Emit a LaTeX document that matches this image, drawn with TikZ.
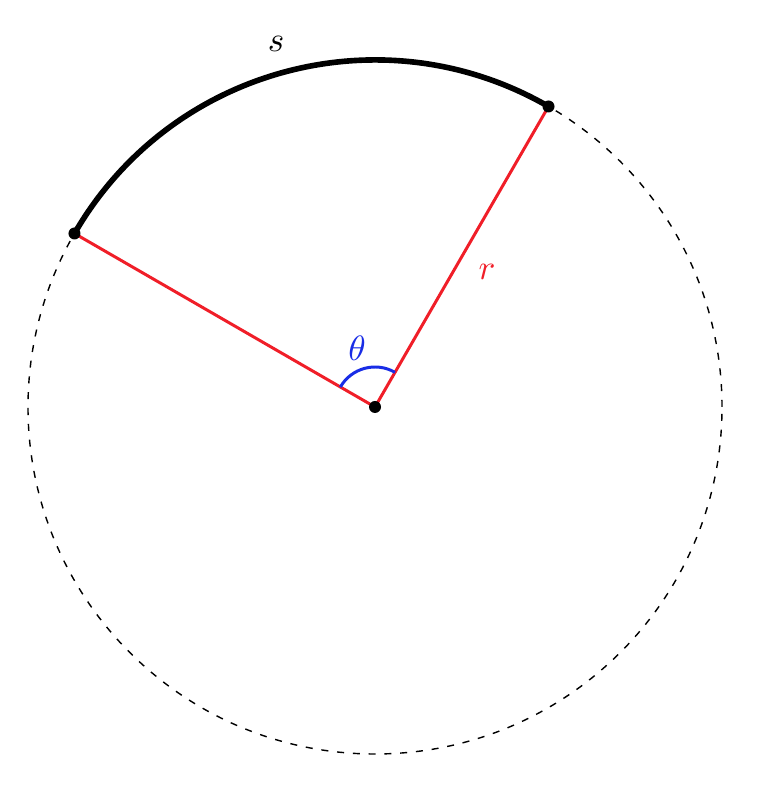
\documentclass[tikz,border=0pt]{standalone}
\definecolor{myred}{RGB}{240,30,40}
\definecolor{myblue}{RGB}{25,45,230}
\tikzset{
  radius line/.style={myred, line width=0.85pt},
  arc line/.style={line width=1.6pt},
  angle mark/.style={myblue, line width=0.85pt},
  dot/.style={circle, fill=black, inner sep=0pt, minimum size=0.12cm},
  guide/.style={dash pattern=on 2pt off 2.5pt, line width=0.4pt}
}
\begin{document}
\begin{tikzpicture}
\useasboundingbox (-3.75,-3.91) rectangle (3.89,4.07);
\coordinate (O) at (0,0);
\coordinate (A) at (60:3.47);
\coordinate (B) at (150:3.47);
\draw[guide] (O) circle (3.47);
\draw[arc line] (A) arc (60:150:3.47);
\draw[radius line] (O) -- (A);
\draw[radius line] (O) -- (B);
\draw[angle mark] (60:0.4) arc (60:150:0.4);
\node[dot] (a) at (A) {};
\node[dot] (b) at (B) {};
\node[dot] (o) at (O) {};
\node (s) at (-0.99,3.63) {$s$};
\node[text=myred] (r) at (1.12,1.35) {$r$};
\node[text=myblue] (t) at (-0.18,0.59) {$\theta$};
\end{tikzpicture}
\end{document}
